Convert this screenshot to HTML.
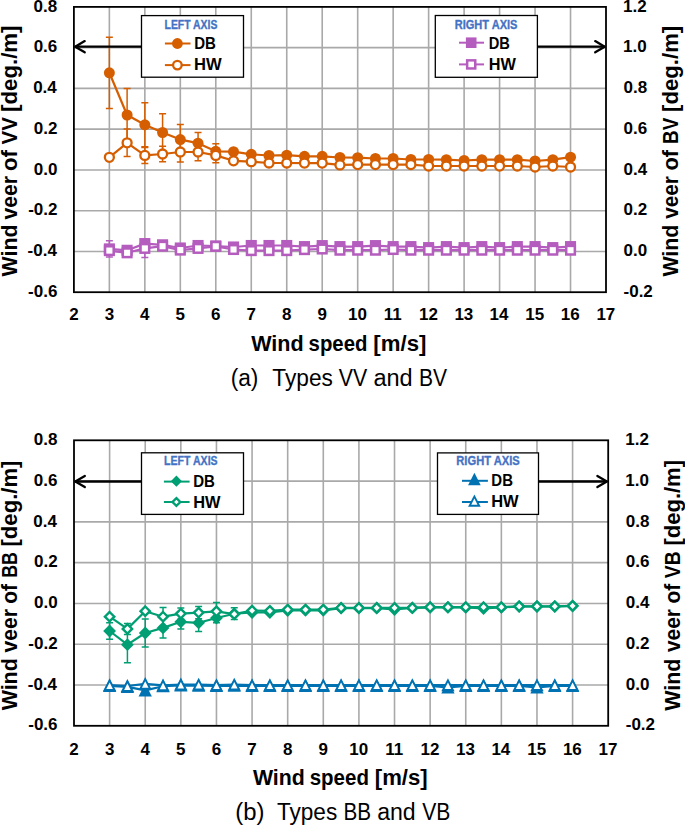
<!DOCTYPE html>
<html><head><meta charset="utf-8"><style>
html,body{margin:0;padding:0;background:#fff;overflow:hidden;width:685px;height:825px;}
svg{display:block;}
</style></head><body>
<svg width="685" height="825" viewBox="0 0 685 825" font-family="'Liberation Sans', sans-serif">
<rect width="685" height="825" fill="#fff"/>
<path d="M109.37,6.90V292.20M144.85,6.90V292.20M180.32,6.90V292.20M215.79,6.90V292.20M251.27,6.90V292.20M286.74,6.90V292.20M322.21,6.90V292.20M357.69,6.90V292.20M393.16,6.90V292.20M428.63,6.90V292.20M464.11,6.90V292.20M499.58,6.90V292.20M535.05,6.90V292.20M570.53,6.90V292.20M73.90,47.66H606.00M73.90,88.41H606.00M73.90,129.17H606.00M73.90,169.93H606.00M73.90,210.69H606.00M73.90,251.44H606.00" stroke="#A9A9A9" stroke-width="1.6" fill="none"/>
<path d="M109.37,37.20V108.40M105.87,37.20h7M105.87,108.40h7M127.11,88.50V141.50M123.61,88.50h7M123.61,141.50h7M144.85,102.80V146.80M141.35,102.80h7M141.35,146.80h7M162.58,113.70V151.30M159.08,113.70h7M159.08,151.30h7M180.32,124.40V154.80M176.82,124.40h7M176.82,154.80h7M198.06,132.40V154.00M194.56,132.40h7M194.56,154.00h7M215.79,143.70V158.90M212.29,143.70h7M212.29,158.90h7" stroke="#D55E00" stroke-width="1.5" fill="none"/>
<path d="M109.37,72.80 L127.11,115.00 L144.85,124.80 L162.58,132.50 L180.32,139.60 L198.06,143.20 L215.79,151.30 L233.53,151.70 L251.27,154.30 L269.00,155.50 L286.74,155.20 L304.48,156.30 L322.21,156.30 L339.95,157.50 L357.69,157.70 L375.42,158.50 L393.16,158.50 L410.90,159.50 L428.63,159.50 L446.37,159.70 L464.11,160.50 L481.84,159.70 L499.58,159.70 L517.32,159.70 L535.05,161.00 L552.79,159.70 L570.53,157.20" stroke="#D55E00" stroke-width="2.2" fill="none" stroke-linejoin="round"/>
<circle cx="109.37" cy="72.80" r="5.5" fill="#D55E00"/>
<circle cx="127.11" cy="115.00" r="5.5" fill="#D55E00"/>
<circle cx="144.85" cy="124.80" r="5.5" fill="#D55E00"/>
<circle cx="162.58" cy="132.50" r="5.5" fill="#D55E00"/>
<circle cx="180.32" cy="139.60" r="5.5" fill="#D55E00"/>
<circle cx="198.06" cy="143.20" r="5.5" fill="#D55E00"/>
<circle cx="215.79" cy="151.30" r="5.5" fill="#D55E00"/>
<circle cx="233.53" cy="151.70" r="5.5" fill="#D55E00"/>
<circle cx="251.27" cy="154.30" r="5.5" fill="#D55E00"/>
<circle cx="269.00" cy="155.50" r="5.5" fill="#D55E00"/>
<circle cx="286.74" cy="155.20" r="5.5" fill="#D55E00"/>
<circle cx="304.48" cy="156.30" r="5.5" fill="#D55E00"/>
<circle cx="322.21" cy="156.30" r="5.5" fill="#D55E00"/>
<circle cx="339.95" cy="157.50" r="5.5" fill="#D55E00"/>
<circle cx="357.69" cy="157.70" r="5.5" fill="#D55E00"/>
<circle cx="375.42" cy="158.50" r="5.5" fill="#D55E00"/>
<circle cx="393.16" cy="158.50" r="5.5" fill="#D55E00"/>
<circle cx="410.90" cy="159.50" r="5.5" fill="#D55E00"/>
<circle cx="428.63" cy="159.50" r="5.5" fill="#D55E00"/>
<circle cx="446.37" cy="159.70" r="5.5" fill="#D55E00"/>
<circle cx="464.11" cy="160.50" r="5.5" fill="#D55E00"/>
<circle cx="481.84" cy="159.70" r="5.5" fill="#D55E00"/>
<circle cx="499.58" cy="159.70" r="5.5" fill="#D55E00"/>
<circle cx="517.32" cy="159.70" r="5.5" fill="#D55E00"/>
<circle cx="535.05" cy="161.00" r="5.5" fill="#D55E00"/>
<circle cx="552.79" cy="159.70" r="5.5" fill="#D55E00"/>
<circle cx="570.53" cy="157.20" r="5.5" fill="#D55E00"/>
<path d="M127.11,129.10V156.50M123.61,129.10h7M123.61,156.50h7M144.85,147.40V163.40M141.35,147.40h7M141.35,163.40h7M162.58,146.20V161.80M159.08,146.20h7M159.08,161.80h7M180.32,142.00V162.00M176.82,142.00h7M176.82,162.00h7M198.06,143.20V160.80M194.56,143.20h7M194.56,160.80h7M215.79,148.00V162.80M212.29,148.00h7M212.29,162.80h7" stroke="#D55E00" stroke-width="1.5" fill="none"/>
<path d="M109.37,157.30 L127.11,142.80 L144.85,155.40 L162.58,154.00 L180.32,152.00 L198.06,152.00 L215.79,155.40 L233.53,160.80 L251.27,161.70 L269.00,163.00 L286.74,163.00 L304.48,163.10 L322.21,163.10 L339.95,164.90 L357.69,164.60 L375.42,164.60 L393.16,164.60 L410.90,164.60 L428.63,166.00 L446.37,166.00 L464.11,166.00 L481.84,166.00 L499.58,166.00 L517.32,166.00 L535.05,167.00 L552.79,166.00 L570.53,167.00" stroke="#D55E00" stroke-width="2.2" fill="none" stroke-linejoin="round"/>
<circle cx="109.37" cy="157.30" r="4.5" fill="#fff" stroke="#D55E00" stroke-width="2.3"/>
<circle cx="127.11" cy="142.80" r="4.5" fill="#fff" stroke="#D55E00" stroke-width="2.3"/>
<circle cx="144.85" cy="155.40" r="4.5" fill="#fff" stroke="#D55E00" stroke-width="2.3"/>
<circle cx="162.58" cy="154.00" r="4.5" fill="#fff" stroke="#D55E00" stroke-width="2.3"/>
<circle cx="180.32" cy="152.00" r="4.5" fill="#fff" stroke="#D55E00" stroke-width="2.3"/>
<circle cx="198.06" cy="152.00" r="4.5" fill="#fff" stroke="#D55E00" stroke-width="2.3"/>
<circle cx="215.79" cy="155.40" r="4.5" fill="#fff" stroke="#D55E00" stroke-width="2.3"/>
<circle cx="233.53" cy="160.80" r="4.5" fill="#fff" stroke="#D55E00" stroke-width="2.3"/>
<circle cx="251.27" cy="161.70" r="4.5" fill="#fff" stroke="#D55E00" stroke-width="2.3"/>
<circle cx="269.00" cy="163.00" r="4.5" fill="#fff" stroke="#D55E00" stroke-width="2.3"/>
<circle cx="286.74" cy="163.00" r="4.5" fill="#fff" stroke="#D55E00" stroke-width="2.3"/>
<circle cx="304.48" cy="163.10" r="4.5" fill="#fff" stroke="#D55E00" stroke-width="2.3"/>
<circle cx="322.21" cy="163.10" r="4.5" fill="#fff" stroke="#D55E00" stroke-width="2.3"/>
<circle cx="339.95" cy="164.90" r="4.5" fill="#fff" stroke="#D55E00" stroke-width="2.3"/>
<circle cx="357.69" cy="164.60" r="4.5" fill="#fff" stroke="#D55E00" stroke-width="2.3"/>
<circle cx="375.42" cy="164.60" r="4.5" fill="#fff" stroke="#D55E00" stroke-width="2.3"/>
<circle cx="393.16" cy="164.60" r="4.5" fill="#fff" stroke="#D55E00" stroke-width="2.3"/>
<circle cx="410.90" cy="164.60" r="4.5" fill="#fff" stroke="#D55E00" stroke-width="2.3"/>
<circle cx="428.63" cy="166.00" r="4.5" fill="#fff" stroke="#D55E00" stroke-width="2.3"/>
<circle cx="446.37" cy="166.00" r="4.5" fill="#fff" stroke="#D55E00" stroke-width="2.3"/>
<circle cx="464.11" cy="166.00" r="4.5" fill="#fff" stroke="#D55E00" stroke-width="2.3"/>
<circle cx="481.84" cy="166.00" r="4.5" fill="#fff" stroke="#D55E00" stroke-width="2.3"/>
<circle cx="499.58" cy="166.00" r="4.5" fill="#fff" stroke="#D55E00" stroke-width="2.3"/>
<circle cx="517.32" cy="166.00" r="4.5" fill="#fff" stroke="#D55E00" stroke-width="2.3"/>
<circle cx="535.05" cy="167.00" r="4.5" fill="#fff" stroke="#D55E00" stroke-width="2.3"/>
<circle cx="552.79" cy="166.00" r="4.5" fill="#fff" stroke="#D55E00" stroke-width="2.3"/>
<circle cx="570.53" cy="167.00" r="4.5" fill="#fff" stroke="#D55E00" stroke-width="2.3"/>
<path d="M109.37,240.80V257.00M105.87,240.80h7M105.87,257.00h7" stroke="#B55DBE" stroke-width="1.5" fill="none"/>
<path d="M109.37,248.90 L127.11,250.30 L144.85,243.60 L162.58,244.80 L180.32,248.00 L198.06,245.50 L215.79,246.00 L233.53,247.00 L251.27,245.50 L269.00,245.50 L286.74,245.50 L304.48,246.60 L322.21,245.60 L339.95,246.60 L357.69,246.60 L375.42,245.60 L393.16,246.60 L410.90,246.60 L428.63,247.60 L446.37,246.60 L464.11,247.60 L481.84,246.60 L499.58,247.60 L517.32,246.60 L535.05,246.60 L552.79,247.60 L570.53,246.60" stroke="#B55DBE" stroke-width="2.2" fill="none" stroke-linejoin="round"/>
<rect x="103.82" y="243.35" width="11.10" height="11.10" fill="#B55DBE"/>
<rect x="121.56" y="244.75" width="11.10" height="11.10" fill="#B55DBE"/>
<rect x="139.30" y="238.05" width="11.10" height="11.10" fill="#B55DBE"/>
<rect x="157.03" y="239.25" width="11.10" height="11.10" fill="#B55DBE"/>
<rect x="174.77" y="242.45" width="11.10" height="11.10" fill="#B55DBE"/>
<rect x="192.51" y="239.95" width="11.10" height="11.10" fill="#B55DBE"/>
<rect x="210.24" y="240.45" width="11.10" height="11.10" fill="#B55DBE"/>
<rect x="227.98" y="241.45" width="11.10" height="11.10" fill="#B55DBE"/>
<rect x="245.72" y="239.95" width="11.10" height="11.10" fill="#B55DBE"/>
<rect x="263.45" y="239.95" width="11.10" height="11.10" fill="#B55DBE"/>
<rect x="281.19" y="239.95" width="11.10" height="11.10" fill="#B55DBE"/>
<rect x="298.93" y="241.05" width="11.10" height="11.10" fill="#B55DBE"/>
<rect x="316.66" y="240.05" width="11.10" height="11.10" fill="#B55DBE"/>
<rect x="334.40" y="241.05" width="11.10" height="11.10" fill="#B55DBE"/>
<rect x="352.14" y="241.05" width="11.10" height="11.10" fill="#B55DBE"/>
<rect x="369.87" y="240.05" width="11.10" height="11.10" fill="#B55DBE"/>
<rect x="387.61" y="241.05" width="11.10" height="11.10" fill="#B55DBE"/>
<rect x="405.35" y="241.05" width="11.10" height="11.10" fill="#B55DBE"/>
<rect x="423.08" y="242.05" width="11.10" height="11.10" fill="#B55DBE"/>
<rect x="440.82" y="241.05" width="11.10" height="11.10" fill="#B55DBE"/>
<rect x="458.56" y="242.05" width="11.10" height="11.10" fill="#B55DBE"/>
<rect x="476.29" y="241.05" width="11.10" height="11.10" fill="#B55DBE"/>
<rect x="494.03" y="242.05" width="11.10" height="11.10" fill="#B55DBE"/>
<rect x="511.77" y="241.05" width="11.10" height="11.10" fill="#B55DBE"/>
<rect x="529.50" y="241.05" width="11.10" height="11.10" fill="#B55DBE"/>
<rect x="547.24" y="242.05" width="11.10" height="11.10" fill="#B55DBE"/>
<rect x="564.98" y="241.05" width="11.10" height="11.10" fill="#B55DBE"/>
<path d="M144.85,239.30V257.50M141.35,239.30h7M141.35,257.50h7" stroke="#B55DBE" stroke-width="1.5" fill="none"/>
<path d="M109.37,250.60 L127.11,252.80 L144.85,248.40 L162.58,246.20 L180.32,250.10 L198.06,248.40 L215.79,246.30 L233.53,249.50 L251.27,250.60 L269.00,250.60 L286.74,250.60 L304.48,249.60 L322.21,249.00 L339.95,250.20 L357.69,250.20 L375.42,250.20 L393.16,249.50 L410.90,250.20 L428.63,250.20 L446.37,250.20 L464.11,250.20 L481.84,250.20 L499.58,250.20 L517.32,250.20 L535.05,250.20 L552.79,250.20 L570.53,250.20" stroke="#B55DBE" stroke-width="2.2" fill="none" stroke-linejoin="round"/>
<rect x="105.07" y="246.30" width="8.60" height="8.60" fill="#fff" stroke="#B55DBE" stroke-width="2.5"/>
<rect x="122.81" y="248.50" width="8.60" height="8.60" fill="#fff" stroke="#B55DBE" stroke-width="2.5"/>
<rect x="140.55" y="244.10" width="8.60" height="8.60" fill="#fff" stroke="#B55DBE" stroke-width="2.5"/>
<rect x="158.28" y="241.90" width="8.60" height="8.60" fill="#fff" stroke="#B55DBE" stroke-width="2.5"/>
<rect x="176.02" y="245.80" width="8.60" height="8.60" fill="#fff" stroke="#B55DBE" stroke-width="2.5"/>
<rect x="193.76" y="244.10" width="8.60" height="8.60" fill="#fff" stroke="#B55DBE" stroke-width="2.5"/>
<rect x="211.49" y="242.00" width="8.60" height="8.60" fill="#fff" stroke="#B55DBE" stroke-width="2.5"/>
<rect x="229.23" y="245.20" width="8.60" height="8.60" fill="#fff" stroke="#B55DBE" stroke-width="2.5"/>
<rect x="246.97" y="246.30" width="8.60" height="8.60" fill="#fff" stroke="#B55DBE" stroke-width="2.5"/>
<rect x="264.70" y="246.30" width="8.60" height="8.60" fill="#fff" stroke="#B55DBE" stroke-width="2.5"/>
<rect x="282.44" y="246.30" width="8.60" height="8.60" fill="#fff" stroke="#B55DBE" stroke-width="2.5"/>
<rect x="300.18" y="245.30" width="8.60" height="8.60" fill="#fff" stroke="#B55DBE" stroke-width="2.5"/>
<rect x="317.91" y="244.70" width="8.60" height="8.60" fill="#fff" stroke="#B55DBE" stroke-width="2.5"/>
<rect x="335.65" y="245.90" width="8.60" height="8.60" fill="#fff" stroke="#B55DBE" stroke-width="2.5"/>
<rect x="353.39" y="245.90" width="8.60" height="8.60" fill="#fff" stroke="#B55DBE" stroke-width="2.5"/>
<rect x="371.12" y="245.90" width="8.60" height="8.60" fill="#fff" stroke="#B55DBE" stroke-width="2.5"/>
<rect x="388.86" y="245.20" width="8.60" height="8.60" fill="#fff" stroke="#B55DBE" stroke-width="2.5"/>
<rect x="406.60" y="245.90" width="8.60" height="8.60" fill="#fff" stroke="#B55DBE" stroke-width="2.5"/>
<rect x="424.33" y="245.90" width="8.60" height="8.60" fill="#fff" stroke="#B55DBE" stroke-width="2.5"/>
<rect x="442.07" y="245.90" width="8.60" height="8.60" fill="#fff" stroke="#B55DBE" stroke-width="2.5"/>
<rect x="459.81" y="245.90" width="8.60" height="8.60" fill="#fff" stroke="#B55DBE" stroke-width="2.5"/>
<rect x="477.54" y="245.90" width="8.60" height="8.60" fill="#fff" stroke="#B55DBE" stroke-width="2.5"/>
<rect x="495.28" y="245.90" width="8.60" height="8.60" fill="#fff" stroke="#B55DBE" stroke-width="2.5"/>
<rect x="513.02" y="245.90" width="8.60" height="8.60" fill="#fff" stroke="#B55DBE" stroke-width="2.5"/>
<rect x="530.75" y="245.90" width="8.60" height="8.60" fill="#fff" stroke="#B55DBE" stroke-width="2.5"/>
<rect x="548.49" y="245.90" width="8.60" height="8.60" fill="#fff" stroke="#B55DBE" stroke-width="2.5"/>
<rect x="566.23" y="245.90" width="8.60" height="8.60" fill="#fff" stroke="#B55DBE" stroke-width="2.5"/>
<rect x="73.90" y="6.90" width="532.10" height="285.30" fill="none" stroke="#000" stroke-width="1.8"/>
<text x="33.59" y="11.55" font-size="16.5" font-weight="bold" fill="#000" textLength="23.63" lengthAdjust="spacingAndGlyphs" >0.8</text>
<text x="33.67" y="52.31" font-size="16.5" font-weight="bold" fill="#000" textLength="23.63" lengthAdjust="spacingAndGlyphs" >0.6</text>
<text x="33.16" y="93.06" font-size="16.5" font-weight="bold" fill="#000" textLength="23.63" lengthAdjust="spacingAndGlyphs" >0.4</text>
<text x="33.76" y="133.82" font-size="16.5" font-weight="bold" fill="#000" textLength="23.63" lengthAdjust="spacingAndGlyphs" >0.2</text>
<text x="33.76" y="174.58" font-size="16.5" font-weight="bold" fill="#000" textLength="23.63" lengthAdjust="spacingAndGlyphs" >0.0</text>
<text x="28.15" y="215.34" font-size="16.5" font-weight="bold" fill="#000" textLength="29.29" lengthAdjust="spacingAndGlyphs" >-0.2</text>
<text x="27.55" y="256.09" font-size="16.5" font-weight="bold" fill="#000" textLength="29.29" lengthAdjust="spacingAndGlyphs" >-0.4</text>
<text x="28.06" y="296.85" font-size="16.5" font-weight="bold" fill="#000" textLength="29.29" lengthAdjust="spacingAndGlyphs" >-0.6</text>
<text x="623.10" y="11.55" font-size="16.5" font-weight="bold" fill="#000" textLength="23.63" lengthAdjust="spacingAndGlyphs" >1.2</text>
<text x="623.10" y="52.31" font-size="16.5" font-weight="bold" fill="#000" textLength="23.63" lengthAdjust="spacingAndGlyphs" >1.0</text>
<text x="623.52" y="93.06" font-size="16.5" font-weight="bold" fill="#000" textLength="23.63" lengthAdjust="spacingAndGlyphs" >0.8</text>
<text x="623.52" y="133.82" font-size="16.5" font-weight="bold" fill="#000" textLength="23.63" lengthAdjust="spacingAndGlyphs" >0.6</text>
<text x="623.52" y="174.58" font-size="16.5" font-weight="bold" fill="#000" textLength="23.63" lengthAdjust="spacingAndGlyphs" >0.4</text>
<text x="623.52" y="215.34" font-size="16.5" font-weight="bold" fill="#000" textLength="23.63" lengthAdjust="spacingAndGlyphs" >0.2</text>
<text x="623.52" y="256.09" font-size="16.5" font-weight="bold" fill="#000" textLength="23.63" lengthAdjust="spacingAndGlyphs" >0.0</text>
<text x="623.52" y="296.85" font-size="16.5" font-weight="bold" fill="#000" textLength="29.29" lengthAdjust="spacingAndGlyphs" >-0.2</text>
<text x="69.23" y="320.00" font-size="16.5" font-weight="bold" fill="#000" textLength="9.45" lengthAdjust="spacingAndGlyphs" >2</text>
<text x="104.74" y="320.00" font-size="16.5" font-weight="bold" fill="#000" textLength="9.45" lengthAdjust="spacingAndGlyphs" >3</text>
<text x="140.05" y="320.00" font-size="16.5" font-weight="bold" fill="#000" textLength="9.45" lengthAdjust="spacingAndGlyphs" >4</text>
<text x="175.56" y="320.00" font-size="16.5" font-weight="bold" fill="#000" textLength="9.45" lengthAdjust="spacingAndGlyphs" >5</text>
<text x="211.08" y="320.00" font-size="16.5" font-weight="bold" fill="#000" textLength="9.45" lengthAdjust="spacingAndGlyphs" >6</text>
<text x="246.55" y="320.00" font-size="16.5" font-weight="bold" fill="#000" textLength="9.45" lengthAdjust="spacingAndGlyphs" >7</text>
<text x="282.02" y="320.00" font-size="16.5" font-weight="bold" fill="#000" textLength="9.45" lengthAdjust="spacingAndGlyphs" >8</text>
<text x="317.50" y="320.00" font-size="16.5" font-weight="bold" fill="#000" textLength="9.45" lengthAdjust="spacingAndGlyphs" >9</text>
<text x="348.04" y="320.00" font-size="16.5" font-weight="bold" fill="#000" textLength="18.90" lengthAdjust="spacingAndGlyphs" >10</text>
<text x="383.86" y="320.00" font-size="16.5" font-weight="bold" fill="#000" textLength="17.97" lengthAdjust="spacingAndGlyphs" >11</text>
<text x="418.99" y="320.00" font-size="16.5" font-weight="bold" fill="#000" textLength="18.90" lengthAdjust="spacingAndGlyphs" >12</text>
<text x="454.42" y="320.00" font-size="16.5" font-weight="bold" fill="#000" textLength="18.90" lengthAdjust="spacingAndGlyphs" >13</text>
<text x="489.64" y="320.00" font-size="16.5" font-weight="bold" fill="#000" textLength="18.90" lengthAdjust="spacingAndGlyphs" >14</text>
<text x="525.28" y="320.00" font-size="16.5" font-weight="bold" fill="#000" textLength="18.90" lengthAdjust="spacingAndGlyphs" >15</text>
<text x="560.84" y="320.00" font-size="16.5" font-weight="bold" fill="#000" textLength="18.90" lengthAdjust="spacingAndGlyphs" >16</text>
<text x="596.40" y="320.00" font-size="16.5" font-weight="bold" fill="#000" textLength="18.90" lengthAdjust="spacingAndGlyphs" >17</text>
<text x="251.20" y="351.30" font-size="22" font-weight="bold" fill="#000" textLength="52.49" lengthAdjust="spacingAndGlyphs" >Wind</text>
<text x="308.59" y="351.30" font-size="22" font-weight="bold" fill="#000" textLength="58.84" lengthAdjust="spacingAndGlyphs" >speed</text>
<text x="373.38" y="351.30" font-size="22" font-weight="bold" fill="#000" textLength="53.04" lengthAdjust="spacingAndGlyphs" >[m/s]</text>
<text transform="translate(17.30,276.40) rotate(-90)" x="0" y="0" font-size="22" font-weight="bold" textLength="51.77" lengthAdjust="spacingAndGlyphs">Wind</text>
<text transform="translate(17.30,219.41) rotate(-90)" x="0" y="0" font-size="22" font-weight="bold" textLength="43.37" lengthAdjust="spacingAndGlyphs">veer</text>
<text transform="translate(17.30,170.88) rotate(-90)" x="0" y="0" font-size="22" font-weight="bold" textLength="20.86" lengthAdjust="spacingAndGlyphs">of</text>
<text transform="translate(17.30,144.51) rotate(-90)" x="0" y="0" font-size="22" font-weight="bold" textLength="27.39" lengthAdjust="spacingAndGlyphs">VV</text>
<text transform="translate(17.30,111.92) rotate(-90)" x="0" y="0" font-size="22" font-weight="bold" textLength="86.43" lengthAdjust="spacingAndGlyphs">[deg./m]</text>
<text transform="translate(677.80,276.60) rotate(-90)" x="0" y="0" font-size="22" font-weight="bold" textLength="51.98" lengthAdjust="spacingAndGlyphs">Wind</text>
<text transform="translate(677.80,218.80) rotate(-90)" x="0" y="0" font-size="22" font-weight="bold" textLength="42.77" lengthAdjust="spacingAndGlyphs">veer</text>
<text transform="translate(677.80,170.57) rotate(-90)" x="0" y="0" font-size="22" font-weight="bold" textLength="20.55" lengthAdjust="spacingAndGlyphs">of</text>
<text transform="translate(677.80,143.92) rotate(-90)" x="0" y="0" font-size="22" font-weight="bold" textLength="26.09" lengthAdjust="spacingAndGlyphs">BV</text>
<text transform="translate(677.80,111.92) rotate(-90)" x="0" y="0" font-size="22" font-weight="bold" textLength="86.12" lengthAdjust="spacingAndGlyphs">[deg./m]</text>
<text x="230.64" y="386.00" font-size="23" font-weight="normal" fill="#000" textLength="27.78" lengthAdjust="spacingAndGlyphs" >(a)</text>
<text x="272.33" y="386.00" font-size="23" font-weight="normal" fill="#000" textLength="60.52" lengthAdjust="spacingAndGlyphs" >Types</text>
<text x="338.79" y="386.00" font-size="23" font-weight="normal" fill="#000" textLength="28.40" lengthAdjust="spacingAndGlyphs" >VV</text>
<text x="373.44" y="386.00" font-size="23" font-weight="normal" fill="#000" textLength="39.27" lengthAdjust="spacingAndGlyphs" >and</text>
<text x="418.92" y="386.00" font-size="23" font-weight="normal" fill="#000" textLength="28.07" lengthAdjust="spacingAndGlyphs" >BV</text>
<path d="M74.90,46.70H141.50" stroke="#000" stroke-width="2.3"/>
<path d="M84.70,41.10L75.20,46.70L84.70,52.30" stroke="#000" stroke-width="2.3" fill="none" stroke-linecap="round" stroke-linejoin="round"/>
<rect x="141.50" y="15.60" width="102.00" height="61.60" fill="#fff" stroke="#000" stroke-width="1.3"/>
<text x="164.52" y="29.00" font-size="13" font-weight="bold" fill="#4472C4" textLength="52.89" lengthAdjust="spacingAndGlyphs" stroke="#4472C4" stroke-width="0.35">LEFT AXIS</text>
<path d="M164.90,43.50H190.50" stroke="#D55E00" stroke-width="2"/>
<circle cx="177.40" cy="43.50" r="5.4" fill="#D55E00"/>
<text x="194.22" y="48.70" font-size="16.5" font-weight="bold" fill="#000" textLength="21.72" lengthAdjust="spacingAndGlyphs" >DB</text>
<path d="M164.90,65.10H190.50" stroke="#D55E00" stroke-width="2"/>
<circle cx="177.40" cy="65.10" r="4.3" fill="#fff" stroke="#D55E00" stroke-width="2.3"/>
<text x="194.12" y="70.00" font-size="16.5" font-weight="bold" fill="#000" textLength="27.68" lengthAdjust="spacingAndGlyphs" >HW</text>
<path d="M537.40,46.70H605.00" stroke="#000" stroke-width="2.3"/>
<path d="M595.20,41.10L604.70,46.70L595.20,52.30" stroke="#000" stroke-width="2.3" fill="none" stroke-linecap="round" stroke-linejoin="round"/>
<rect x="435.30" y="15.50" width="102.10" height="61.80" fill="#fff" stroke="#000" stroke-width="1.3"/>
<text x="454.78" y="29.00" font-size="13" font-weight="bold" fill="#4472C4" textLength="62.71" lengthAdjust="spacingAndGlyphs" stroke="#4472C4" stroke-width="0.35">RIGHT AXIS</text>
<path d="M459.00,42.70H484.00" stroke="#B55DBE" stroke-width="2"/>
<rect x="465.90" y="37.40" width="10.60" height="10.60" fill="#B55DBE"/>
<text x="488.75" y="48.70" font-size="16.5" font-weight="bold" fill="#000" textLength="21.18" lengthAdjust="spacingAndGlyphs" >DB</text>
<path d="M459.00,64.40H484.00" stroke="#B55DBE" stroke-width="2"/>
<rect x="467.15" y="60.35" width="8.10" height="8.10" fill="#fff" stroke="#B55DBE" stroke-width="2.5"/>
<text x="488.64" y="70.00" font-size="16.5" font-weight="bold" fill="#000" textLength="27.16" lengthAdjust="spacingAndGlyphs" >HW</text>
<path d="M109.61,440.30V725.80M145.23,440.30V725.80M180.84,440.30V725.80M216.45,440.30V725.80M252.07,440.30V725.80M287.68,440.30V725.80M323.29,440.30V725.80M358.91,440.30V725.80M394.52,440.30V725.80M430.13,440.30V725.80M465.75,440.30V725.80M501.36,440.30V725.80M536.97,440.30V725.80M572.59,440.30V725.80M74.00,481.09H608.20M74.00,521.87H608.20M74.00,562.66H608.20M74.00,603.44H608.20M74.00,644.23H608.20M74.00,685.01H608.20" stroke="#A9A9A9" stroke-width="1.6" fill="none"/>
<path d="M109.61,622.80V639.20M106.11,622.80h7M106.11,639.20h7M127.42,626.70V662.70M123.92,626.70h7M123.92,662.70h7M145.23,619.00V647.00M141.73,619.00h7M141.73,647.00h7M163.03,617.70V638.10M159.53,617.70h7M159.53,638.10h7M180.84,614.70V628.90M177.34,614.70h7M177.34,628.90h7M198.65,614.00V631.60M195.15,614.00h7M195.15,631.60h7M216.45,613.20V622.80M212.95,613.20h7M212.95,622.80h7M234.26,607.80V619.60M230.76,607.80h7M230.76,619.60h7" stroke="#009E73" stroke-width="1.5" fill="none"/>
<path d="M109.61,631.00 L127.42,644.70 L145.23,633.00 L163.03,627.90 L180.84,621.80 L198.65,622.80 L216.45,618.00 L234.26,613.70 L252.07,612.50 L269.87,612.50 L287.68,610.50 L305.49,610.30 L323.29,610.30 L341.10,608.20 L358.91,608.20 L376.71,608.20 L394.52,609.50 L412.33,607.90 L430.13,607.40 L447.94,607.40 L465.75,607.40 L483.55,608.50 L501.36,607.40 L519.17,606.50 L536.97,606.50 L554.78,606.50 L572.59,606.00" stroke="#009E73" stroke-width="2.2" fill="none" stroke-linejoin="round"/>
<path d="M109.61,624.60L116.01,631.00L109.61,637.40L103.21,631.00Z" fill="#009E73"/>
<path d="M127.42,638.30L133.82,644.70L127.42,651.10L121.02,644.70Z" fill="#009E73"/>
<path d="M145.23,626.60L151.63,633.00L145.23,639.40L138.83,633.00Z" fill="#009E73"/>
<path d="M163.03,621.50L169.43,627.90L163.03,634.30L156.63,627.90Z" fill="#009E73"/>
<path d="M180.84,615.40L187.24,621.80L180.84,628.20L174.44,621.80Z" fill="#009E73"/>
<path d="M198.65,616.40L205.05,622.80L198.65,629.20L192.25,622.80Z" fill="#009E73"/>
<path d="M216.45,611.60L222.85,618.00L216.45,624.40L210.05,618.00Z" fill="#009E73"/>
<path d="M234.26,607.30L240.66,613.70L234.26,620.10L227.86,613.70Z" fill="#009E73"/>
<path d="M252.07,606.10L258.47,612.50L252.07,618.90L245.67,612.50Z" fill="#009E73"/>
<path d="M269.87,606.10L276.27,612.50L269.87,618.90L263.47,612.50Z" fill="#009E73"/>
<path d="M287.68,604.10L294.08,610.50L287.68,616.90L281.28,610.50Z" fill="#009E73"/>
<path d="M305.49,603.90L311.89,610.30L305.49,616.70L299.09,610.30Z" fill="#009E73"/>
<path d="M323.29,603.90L329.69,610.30L323.29,616.70L316.89,610.30Z" fill="#009E73"/>
<path d="M341.10,601.80L347.50,608.20L341.10,614.60L334.70,608.20Z" fill="#009E73"/>
<path d="M358.91,601.80L365.31,608.20L358.91,614.60L352.51,608.20Z" fill="#009E73"/>
<path d="M376.71,601.80L383.11,608.20L376.71,614.60L370.31,608.20Z" fill="#009E73"/>
<path d="M394.52,603.10L400.92,609.50L394.52,615.90L388.12,609.50Z" fill="#009E73"/>
<path d="M412.33,601.50L418.73,607.90L412.33,614.30L405.93,607.90Z" fill="#009E73"/>
<path d="M430.13,601.00L436.53,607.40L430.13,613.80L423.73,607.40Z" fill="#009E73"/>
<path d="M447.94,601.00L454.34,607.40L447.94,613.80L441.54,607.40Z" fill="#009E73"/>
<path d="M465.75,601.00L472.15,607.40L465.75,613.80L459.35,607.40Z" fill="#009E73"/>
<path d="M483.55,602.10L489.95,608.50L483.55,614.90L477.15,608.50Z" fill="#009E73"/>
<path d="M501.36,601.00L507.76,607.40L501.36,613.80L494.96,607.40Z" fill="#009E73"/>
<path d="M519.17,600.10L525.57,606.50L519.17,612.90L512.77,606.50Z" fill="#009E73"/>
<path d="M536.97,600.10L543.37,606.50L536.97,612.90L530.57,606.50Z" fill="#009E73"/>
<path d="M554.78,600.10L561.18,606.50L554.78,612.90L548.38,606.50Z" fill="#009E73"/>
<path d="M572.59,599.60L578.99,606.00L572.59,612.40L566.19,606.00Z" fill="#009E73"/>
<path d="M127.42,623.40V634.40M123.92,623.40h7M123.92,634.40h7M163.03,607.50V625.90M159.53,607.50h7M159.53,625.90h7M180.84,607.90V619.30M177.34,607.90h7M177.34,619.30h7M198.65,606.50V618.70M195.15,606.50h7M195.15,618.70h7M216.45,602.40V620.20M212.95,602.40h7M212.95,620.20h7" stroke="#009E73" stroke-width="1.5" fill="none"/>
<path d="M109.61,616.70 L127.42,628.90 L145.23,611.20 L163.03,616.70 L180.84,613.60 L198.65,612.60 L216.45,611.30 L234.26,614.20 L252.07,610.60 L269.87,610.80 L287.68,609.60 L305.49,609.60 L323.29,609.60 L341.10,607.90 L358.91,607.90 L376.71,607.90 L394.52,607.90 L412.33,607.90 L430.13,607.20 L447.94,607.20 L465.75,607.20 L483.55,607.20 L501.36,607.20 L519.17,606.30 L536.97,606.30 L554.78,606.30 L572.59,605.80" stroke="#009E73" stroke-width="2.2" fill="none" stroke-linejoin="round"/>
<path d="M109.61,612.00L114.31,616.70L109.61,621.40L104.91,616.70Z" fill="#fff" stroke="#009E73" stroke-width="2.4"/>
<path d="M127.42,624.20L132.12,628.90L127.42,633.60L122.72,628.90Z" fill="#fff" stroke="#009E73" stroke-width="2.4"/>
<path d="M145.23,606.50L149.93,611.20L145.23,615.90L140.53,611.20Z" fill="#fff" stroke="#009E73" stroke-width="2.4"/>
<path d="M163.03,612.00L167.73,616.70L163.03,621.40L158.33,616.70Z" fill="#fff" stroke="#009E73" stroke-width="2.4"/>
<path d="M180.84,608.90L185.54,613.60L180.84,618.30L176.14,613.60Z" fill="#fff" stroke="#009E73" stroke-width="2.4"/>
<path d="M198.65,607.90L203.35,612.60L198.65,617.30L193.95,612.60Z" fill="#fff" stroke="#009E73" stroke-width="2.4"/>
<path d="M216.45,606.60L221.15,611.30L216.45,616.00L211.75,611.30Z" fill="#fff" stroke="#009E73" stroke-width="2.4"/>
<path d="M234.26,609.50L238.96,614.20L234.26,618.90L229.56,614.20Z" fill="#fff" stroke="#009E73" stroke-width="2.4"/>
<path d="M252.07,605.90L256.77,610.60L252.07,615.30L247.37,610.60Z" fill="#fff" stroke="#009E73" stroke-width="2.4"/>
<path d="M269.87,606.10L274.57,610.80L269.87,615.50L265.17,610.80Z" fill="#fff" stroke="#009E73" stroke-width="2.4"/>
<path d="M287.68,604.90L292.38,609.60L287.68,614.30L282.98,609.60Z" fill="#fff" stroke="#009E73" stroke-width="2.4"/>
<path d="M305.49,604.90L310.19,609.60L305.49,614.30L300.79,609.60Z" fill="#fff" stroke="#009E73" stroke-width="2.4"/>
<path d="M323.29,604.90L327.99,609.60L323.29,614.30L318.59,609.60Z" fill="#fff" stroke="#009E73" stroke-width="2.4"/>
<path d="M341.10,603.20L345.80,607.90L341.10,612.60L336.40,607.90Z" fill="#fff" stroke="#009E73" stroke-width="2.4"/>
<path d="M358.91,603.20L363.61,607.90L358.91,612.60L354.21,607.90Z" fill="#fff" stroke="#009E73" stroke-width="2.4"/>
<path d="M376.71,603.20L381.41,607.90L376.71,612.60L372.01,607.90Z" fill="#fff" stroke="#009E73" stroke-width="2.4"/>
<path d="M394.52,603.20L399.22,607.90L394.52,612.60L389.82,607.90Z" fill="#fff" stroke="#009E73" stroke-width="2.4"/>
<path d="M412.33,603.20L417.03,607.90L412.33,612.60L407.63,607.90Z" fill="#fff" stroke="#009E73" stroke-width="2.4"/>
<path d="M430.13,602.50L434.83,607.20L430.13,611.90L425.43,607.20Z" fill="#fff" stroke="#009E73" stroke-width="2.4"/>
<path d="M447.94,602.50L452.64,607.20L447.94,611.90L443.24,607.20Z" fill="#fff" stroke="#009E73" stroke-width="2.4"/>
<path d="M465.75,602.50L470.45,607.20L465.75,611.90L461.05,607.20Z" fill="#fff" stroke="#009E73" stroke-width="2.4"/>
<path d="M483.55,602.50L488.25,607.20L483.55,611.90L478.85,607.20Z" fill="#fff" stroke="#009E73" stroke-width="2.4"/>
<path d="M501.36,602.50L506.06,607.20L501.36,611.90L496.66,607.20Z" fill="#fff" stroke="#009E73" stroke-width="2.4"/>
<path d="M519.17,601.60L523.87,606.30L519.17,611.00L514.47,606.30Z" fill="#fff" stroke="#009E73" stroke-width="2.4"/>
<path d="M536.97,601.60L541.67,606.30L536.97,611.00L532.27,606.30Z" fill="#fff" stroke="#009E73" stroke-width="2.4"/>
<path d="M554.78,601.60L559.48,606.30L554.78,611.00L550.08,606.30Z" fill="#fff" stroke="#009E73" stroke-width="2.4"/>
<path d="M572.59,601.10L577.29,605.80L572.59,610.50L567.89,605.80Z" fill="#fff" stroke="#009E73" stroke-width="2.4"/>
<path d="M109.61,686.00 L127.42,686.90 L145.23,690.40 L163.03,686.20 L180.84,685.40 L198.65,685.60 L216.45,686.00 L234.26,685.60 L252.07,686.00 L269.87,686.00 L287.68,686.00 L305.49,686.00 L323.29,686.00 L341.10,686.00 L358.91,686.00 L376.71,686.00 L394.52,686.00 L412.33,686.00 L430.13,686.00 L447.94,687.50 L465.75,686.00 L483.55,686.00 L501.36,686.00 L519.17,686.00 L536.97,687.50 L554.78,686.00 L572.59,686.00" stroke="#0072B2" stroke-width="2.2" fill="none" stroke-linejoin="round"/>
<path d="M109.61,679.10L116.26,692.10L102.96,692.10Z" fill="#0072B2"/>
<path d="M127.42,680.00L134.07,693.00L120.77,693.00Z" fill="#0072B2"/>
<path d="M145.23,683.50L151.88,696.50L138.58,696.50Z" fill="#0072B2"/>
<path d="M163.03,679.30L169.68,692.30L156.38,692.30Z" fill="#0072B2"/>
<path d="M180.84,678.50L187.49,691.50L174.19,691.50Z" fill="#0072B2"/>
<path d="M198.65,678.70L205.30,691.70L192.00,691.70Z" fill="#0072B2"/>
<path d="M216.45,679.10L223.10,692.10L209.80,692.10Z" fill="#0072B2"/>
<path d="M234.26,678.70L240.91,691.70L227.61,691.70Z" fill="#0072B2"/>
<path d="M252.07,679.10L258.72,692.10L245.42,692.10Z" fill="#0072B2"/>
<path d="M269.87,679.10L276.52,692.10L263.22,692.10Z" fill="#0072B2"/>
<path d="M287.68,679.10L294.33,692.10L281.03,692.10Z" fill="#0072B2"/>
<path d="M305.49,679.10L312.14,692.10L298.84,692.10Z" fill="#0072B2"/>
<path d="M323.29,679.10L329.94,692.10L316.64,692.10Z" fill="#0072B2"/>
<path d="M341.10,679.10L347.75,692.10L334.45,692.10Z" fill="#0072B2"/>
<path d="M358.91,679.10L365.56,692.10L352.26,692.10Z" fill="#0072B2"/>
<path d="M376.71,679.10L383.36,692.10L370.06,692.10Z" fill="#0072B2"/>
<path d="M394.52,679.10L401.17,692.10L387.87,692.10Z" fill="#0072B2"/>
<path d="M412.33,679.10L418.98,692.10L405.68,692.10Z" fill="#0072B2"/>
<path d="M430.13,679.10L436.78,692.10L423.48,692.10Z" fill="#0072B2"/>
<path d="M447.94,680.60L454.59,693.60L441.29,693.60Z" fill="#0072B2"/>
<path d="M465.75,679.10L472.40,692.10L459.10,692.10Z" fill="#0072B2"/>
<path d="M483.55,679.10L490.20,692.10L476.90,692.10Z" fill="#0072B2"/>
<path d="M501.36,679.10L508.01,692.10L494.71,692.10Z" fill="#0072B2"/>
<path d="M519.17,679.10L525.82,692.10L512.52,692.10Z" fill="#0072B2"/>
<path d="M536.97,680.60L543.62,693.60L530.32,693.60Z" fill="#0072B2"/>
<path d="M554.78,679.10L561.43,692.10L548.13,692.10Z" fill="#0072B2"/>
<path d="M572.59,679.10L579.24,692.10L565.94,692.10Z" fill="#0072B2"/>
<path d="M109.61,685.10 L127.42,686.00 L145.23,683.80 L163.03,685.30 L180.84,684.50 L198.65,684.70 L216.45,685.10 L234.26,684.70 L252.07,685.10 L269.87,685.10 L287.68,685.10 L305.49,685.10 L323.29,685.10 L341.10,685.10 L358.91,685.10 L376.71,685.10 L394.52,685.10 L412.33,685.10 L430.13,685.10 L447.94,685.10 L465.75,685.10 L483.55,685.10 L501.36,685.10 L519.17,685.10 L536.97,685.10 L554.78,685.10 L572.59,685.10" stroke="#0072B2" stroke-width="2.2" fill="none" stroke-linejoin="round"/>
<path d="M109.61,678.20L116.26,691.20L102.96,691.20Z" fill="#0072B2"/><path d="M109.61,682.50L112.91,689.00L106.31,689.00Z" fill="#fff"/>
<path d="M127.42,679.10L134.07,692.10L120.77,692.10Z" fill="#0072B2"/><path d="M127.42,683.40L130.72,689.90L124.12,689.90Z" fill="#fff"/>
<path d="M145.23,676.90L151.88,689.90L138.58,689.90Z" fill="#0072B2"/><path d="M145.23,681.20L148.53,687.70L141.93,687.70Z" fill="#fff"/>
<path d="M163.03,678.40L169.68,691.40L156.38,691.40Z" fill="#0072B2"/><path d="M163.03,682.70L166.33,689.20L159.73,689.20Z" fill="#fff"/>
<path d="M180.84,677.60L187.49,690.60L174.19,690.60Z" fill="#0072B2"/><path d="M180.84,681.90L184.14,688.40L177.54,688.40Z" fill="#fff"/>
<path d="M198.65,677.80L205.30,690.80L192.00,690.80Z" fill="#0072B2"/><path d="M198.65,682.10L201.95,688.60L195.35,688.60Z" fill="#fff"/>
<path d="M216.45,678.20L223.10,691.20L209.80,691.20Z" fill="#0072B2"/><path d="M216.45,682.50L219.75,689.00L213.15,689.00Z" fill="#fff"/>
<path d="M234.26,677.80L240.91,690.80L227.61,690.80Z" fill="#0072B2"/><path d="M234.26,682.10L237.56,688.60L230.96,688.60Z" fill="#fff"/>
<path d="M252.07,678.20L258.72,691.20L245.42,691.20Z" fill="#0072B2"/><path d="M252.07,682.50L255.37,689.00L248.77,689.00Z" fill="#fff"/>
<path d="M269.87,678.20L276.52,691.20L263.22,691.20Z" fill="#0072B2"/><path d="M269.87,682.50L273.17,689.00L266.57,689.00Z" fill="#fff"/>
<path d="M287.68,678.20L294.33,691.20L281.03,691.20Z" fill="#0072B2"/><path d="M287.68,682.50L290.98,689.00L284.38,689.00Z" fill="#fff"/>
<path d="M305.49,678.20L312.14,691.20L298.84,691.20Z" fill="#0072B2"/><path d="M305.49,682.50L308.79,689.00L302.19,689.00Z" fill="#fff"/>
<path d="M323.29,678.20L329.94,691.20L316.64,691.20Z" fill="#0072B2"/><path d="M323.29,682.50L326.59,689.00L319.99,689.00Z" fill="#fff"/>
<path d="M341.10,678.20L347.75,691.20L334.45,691.20Z" fill="#0072B2"/><path d="M341.10,682.50L344.40,689.00L337.80,689.00Z" fill="#fff"/>
<path d="M358.91,678.20L365.56,691.20L352.26,691.20Z" fill="#0072B2"/><path d="M358.91,682.50L362.21,689.00L355.61,689.00Z" fill="#fff"/>
<path d="M376.71,678.20L383.36,691.20L370.06,691.20Z" fill="#0072B2"/><path d="M376.71,682.50L380.01,689.00L373.41,689.00Z" fill="#fff"/>
<path d="M394.52,678.20L401.17,691.20L387.87,691.20Z" fill="#0072B2"/><path d="M394.52,682.50L397.82,689.00L391.22,689.00Z" fill="#fff"/>
<path d="M412.33,678.20L418.98,691.20L405.68,691.20Z" fill="#0072B2"/><path d="M412.33,682.50L415.63,689.00L409.03,689.00Z" fill="#fff"/>
<path d="M430.13,678.20L436.78,691.20L423.48,691.20Z" fill="#0072B2"/><path d="M430.13,682.50L433.43,689.00L426.83,689.00Z" fill="#fff"/>
<path d="M447.94,678.20L454.59,691.20L441.29,691.20Z" fill="#0072B2"/><path d="M447.94,682.50L451.24,689.00L444.64,689.00Z" fill="#fff"/>
<path d="M465.75,678.20L472.40,691.20L459.10,691.20Z" fill="#0072B2"/><path d="M465.75,682.50L469.05,689.00L462.45,689.00Z" fill="#fff"/>
<path d="M483.55,678.20L490.20,691.20L476.90,691.20Z" fill="#0072B2"/><path d="M483.55,682.50L486.85,689.00L480.25,689.00Z" fill="#fff"/>
<path d="M501.36,678.20L508.01,691.20L494.71,691.20Z" fill="#0072B2"/><path d="M501.36,682.50L504.66,689.00L498.06,689.00Z" fill="#fff"/>
<path d="M519.17,678.20L525.82,691.20L512.52,691.20Z" fill="#0072B2"/><path d="M519.17,682.50L522.47,689.00L515.87,689.00Z" fill="#fff"/>
<path d="M536.97,678.20L543.62,691.20L530.32,691.20Z" fill="#0072B2"/><path d="M536.97,682.50L540.27,689.00L533.67,689.00Z" fill="#fff"/>
<path d="M554.78,678.20L561.43,691.20L548.13,691.20Z" fill="#0072B2"/><path d="M554.78,682.50L558.08,689.00L551.48,689.00Z" fill="#fff"/>
<path d="M572.59,678.20L579.24,691.20L565.94,691.20Z" fill="#0072B2"/><path d="M572.59,682.50L575.89,689.00L569.29,689.00Z" fill="#fff"/>
<rect x="74.00" y="440.30" width="534.20" height="285.50" fill="none" stroke="#000" stroke-width="1.8"/>
<text x="33.79" y="444.95" font-size="16.5" font-weight="bold" fill="#000" textLength="23.63" lengthAdjust="spacingAndGlyphs" >0.8</text>
<text x="33.87" y="485.74" font-size="16.5" font-weight="bold" fill="#000" textLength="23.63" lengthAdjust="spacingAndGlyphs" >0.6</text>
<text x="33.36" y="526.52" font-size="16.5" font-weight="bold" fill="#000" textLength="23.63" lengthAdjust="spacingAndGlyphs" >0.4</text>
<text x="33.96" y="567.31" font-size="16.5" font-weight="bold" fill="#000" textLength="23.63" lengthAdjust="spacingAndGlyphs" >0.2</text>
<text x="33.96" y="608.09" font-size="16.5" font-weight="bold" fill="#000" textLength="23.63" lengthAdjust="spacingAndGlyphs" >0.0</text>
<text x="28.35" y="648.88" font-size="16.5" font-weight="bold" fill="#000" textLength="29.29" lengthAdjust="spacingAndGlyphs" >-0.2</text>
<text x="27.75" y="689.66" font-size="16.5" font-weight="bold" fill="#000" textLength="29.29" lengthAdjust="spacingAndGlyphs" >-0.4</text>
<text x="28.26" y="730.45" font-size="16.5" font-weight="bold" fill="#000" textLength="29.29" lengthAdjust="spacingAndGlyphs" >-0.6</text>
<text x="625.30" y="444.95" font-size="16.5" font-weight="bold" fill="#000" textLength="23.63" lengthAdjust="spacingAndGlyphs" >1.2</text>
<text x="625.30" y="485.74" font-size="16.5" font-weight="bold" fill="#000" textLength="23.63" lengthAdjust="spacingAndGlyphs" >1.0</text>
<text x="625.72" y="526.52" font-size="16.5" font-weight="bold" fill="#000" textLength="23.63" lengthAdjust="spacingAndGlyphs" >0.8</text>
<text x="625.72" y="567.31" font-size="16.5" font-weight="bold" fill="#000" textLength="23.63" lengthAdjust="spacingAndGlyphs" >0.6</text>
<text x="625.72" y="608.09" font-size="16.5" font-weight="bold" fill="#000" textLength="23.63" lengthAdjust="spacingAndGlyphs" >0.4</text>
<text x="625.72" y="648.88" font-size="16.5" font-weight="bold" fill="#000" textLength="23.63" lengthAdjust="spacingAndGlyphs" >0.2</text>
<text x="625.72" y="689.66" font-size="16.5" font-weight="bold" fill="#000" textLength="23.63" lengthAdjust="spacingAndGlyphs" >0.0</text>
<text x="625.72" y="730.45" font-size="16.5" font-weight="bold" fill="#000" textLength="29.29" lengthAdjust="spacingAndGlyphs" >-0.2</text>
<text x="69.33" y="755.00" font-size="16.5" font-weight="bold" fill="#000" textLength="9.45" lengthAdjust="spacingAndGlyphs" >2</text>
<text x="104.98" y="755.00" font-size="16.5" font-weight="bold" fill="#000" textLength="9.45" lengthAdjust="spacingAndGlyphs" >3</text>
<text x="140.43" y="755.00" font-size="16.5" font-weight="bold" fill="#000" textLength="9.45" lengthAdjust="spacingAndGlyphs" >4</text>
<text x="176.08" y="755.00" font-size="16.5" font-weight="bold" fill="#000" textLength="9.45" lengthAdjust="spacingAndGlyphs" >5</text>
<text x="211.74" y="755.00" font-size="16.5" font-weight="bold" fill="#000" textLength="9.45" lengthAdjust="spacingAndGlyphs" >6</text>
<text x="247.35" y="755.00" font-size="16.5" font-weight="bold" fill="#000" textLength="9.45" lengthAdjust="spacingAndGlyphs" >7</text>
<text x="282.96" y="755.00" font-size="16.5" font-weight="bold" fill="#000" textLength="9.45" lengthAdjust="spacingAndGlyphs" >8</text>
<text x="318.58" y="755.00" font-size="16.5" font-weight="bold" fill="#000" textLength="9.45" lengthAdjust="spacingAndGlyphs" >9</text>
<text x="349.26" y="755.00" font-size="16.5" font-weight="bold" fill="#000" textLength="18.90" lengthAdjust="spacingAndGlyphs" >10</text>
<text x="385.22" y="755.00" font-size="16.5" font-weight="bold" fill="#000" textLength="17.97" lengthAdjust="spacingAndGlyphs" >11</text>
<text x="420.49" y="755.00" font-size="16.5" font-weight="bold" fill="#000" textLength="18.90" lengthAdjust="spacingAndGlyphs" >12</text>
<text x="456.06" y="755.00" font-size="16.5" font-weight="bold" fill="#000" textLength="18.90" lengthAdjust="spacingAndGlyphs" >13</text>
<text x="491.42" y="755.00" font-size="16.5" font-weight="bold" fill="#000" textLength="18.90" lengthAdjust="spacingAndGlyphs" >14</text>
<text x="527.20" y="755.00" font-size="16.5" font-weight="bold" fill="#000" textLength="18.90" lengthAdjust="spacingAndGlyphs" >15</text>
<text x="562.90" y="755.00" font-size="16.5" font-weight="bold" fill="#000" textLength="18.90" lengthAdjust="spacingAndGlyphs" >16</text>
<text x="598.60" y="755.00" font-size="16.5" font-weight="bold" fill="#000" textLength="18.90" lengthAdjust="spacingAndGlyphs" >17</text>
<text x="252.90" y="784.90" font-size="22" font-weight="bold" fill="#000" textLength="51.88" lengthAdjust="spacingAndGlyphs" >Wind</text>
<text x="309.68" y="784.90" font-size="22" font-weight="bold" fill="#000" textLength="59.25" lengthAdjust="spacingAndGlyphs" >speed</text>
<text x="374.78" y="784.90" font-size="22" font-weight="bold" fill="#000" textLength="52.93" lengthAdjust="spacingAndGlyphs" >[m/s]</text>
<text transform="translate(17.30,710.30) rotate(-90)" x="0" y="0" font-size="22" font-weight="bold" textLength="51.98" lengthAdjust="spacingAndGlyphs">Wind</text>
<text transform="translate(17.30,652.41) rotate(-90)" x="0" y="0" font-size="22" font-weight="bold" textLength="43.37" lengthAdjust="spacingAndGlyphs">veer</text>
<text transform="translate(17.30,603.84) rotate(-90)" x="0" y="0" font-size="22" font-weight="bold" textLength="19.82" lengthAdjust="spacingAndGlyphs">of</text>
<text transform="translate(17.30,577.86) rotate(-90)" x="0" y="0" font-size="22" font-weight="bold" textLength="25.74" lengthAdjust="spacingAndGlyphs">BB</text>
<text transform="translate(17.30,546.52) rotate(-90)" x="0" y="0" font-size="22" font-weight="bold" textLength="86.02" lengthAdjust="spacingAndGlyphs">[deg./m]</text>
<text transform="translate(679.70,710.80) rotate(-90)" x="0" y="0" font-size="22" font-weight="bold" textLength="52.18" lengthAdjust="spacingAndGlyphs">Wind</text>
<text transform="translate(679.70,652.10) rotate(-90)" x="0" y="0" font-size="22" font-weight="bold" textLength="43.07" lengthAdjust="spacingAndGlyphs">veer</text>
<text transform="translate(679.70,603.54) rotate(-90)" x="0" y="0" font-size="22" font-weight="bold" textLength="19.82" lengthAdjust="spacingAndGlyphs">of</text>
<text transform="translate(679.70,578.19) rotate(-90)" x="0" y="0" font-size="22" font-weight="bold" textLength="26.84" lengthAdjust="spacingAndGlyphs">VB</text>
<text transform="translate(679.70,545.51) rotate(-90)" x="0" y="0" font-size="22" font-weight="bold" textLength="85.50" lengthAdjust="spacingAndGlyphs">[deg./m]</text>
<text x="235.37" y="819.70" font-size="23" font-weight="normal" fill="#000" textLength="29.22" lengthAdjust="spacingAndGlyphs" >(b)</text>
<text x="276.93" y="819.70" font-size="23" font-weight="normal" fill="#000" textLength="60.31" lengthAdjust="spacingAndGlyphs" >Types</text>
<text x="343.45" y="819.70" font-size="23" font-weight="normal" fill="#000" textLength="27.57" lengthAdjust="spacingAndGlyphs" >BB</text>
<text x="377.16" y="819.70" font-size="23" font-weight="normal" fill="#000" textLength="38.52" lengthAdjust="spacingAndGlyphs" >and</text>
<text x="422.19" y="819.70" font-size="23" font-weight="normal" fill="#000" textLength="28.15" lengthAdjust="spacingAndGlyphs" >VB</text>
<path d="M75.00,481.50H141.50" stroke="#000" stroke-width="2.3"/>
<path d="M84.80,475.90L75.30,481.50L84.80,487.10" stroke="#000" stroke-width="2.3" fill="none" stroke-linecap="round" stroke-linejoin="round"/>
<rect x="141.50" y="452.80" width="102.00" height="61.60" fill="#fff" stroke="#000" stroke-width="1.3"/>
<text x="164.11" y="465.30" font-size="13" font-weight="bold" fill="#4472C4" textLength="53.50" lengthAdjust="spacingAndGlyphs" stroke="#4472C4" stroke-width="0.35">LEFT AXIS</text>
<path d="M163.90,481.60H189.60" stroke="#009E73" stroke-width="2"/>
<path d="M176.40,475.60L182.00,481.20L176.40,486.80L170.80,481.20Z" fill="#009E73"/>
<text x="193.22" y="487.30" font-size="16.5" font-weight="bold" fill="#000" textLength="21.72" lengthAdjust="spacingAndGlyphs" >DB</text>
<path d="M163.90,502.00H189.60" stroke="#009E73" stroke-width="2"/>
<path d="M176.40,498.10L180.30,502.00L176.40,505.90L172.50,502.00Z" fill="#fff" stroke="#009E73" stroke-width="2.4"/>
<text x="193.14" y="508.20" font-size="16.5" font-weight="bold" fill="#000" textLength="27.26" lengthAdjust="spacingAndGlyphs" >HW</text>
<path d="M538.50,481.50H607.20" stroke="#000" stroke-width="2.3"/>
<path d="M597.40,475.90L606.90,481.50L597.40,487.10" stroke="#000" stroke-width="2.3" fill="none" stroke-linecap="round" stroke-linejoin="round"/>
<rect x="437.50" y="452.90" width="101.00" height="61.50" fill="#fff" stroke="#000" stroke-width="1.3"/>
<text x="456.27" y="465.30" font-size="13" font-weight="bold" fill="#4472C4" textLength="63.52" lengthAdjust="spacingAndGlyphs" stroke="#4472C4" stroke-width="0.35">RIGHT AXIS</text>
<path d="M462.00,480.80H487.90" stroke="#0072B2" stroke-width="2"/>
<path d="M474.40,472.84L480.72,485.19L468.08,485.19Z" fill="#0072B2"/>
<text x="491.33" y="485.70" font-size="16.5" font-weight="bold" fill="#000" textLength="21.61" lengthAdjust="spacingAndGlyphs" >DB</text>
<path d="M462.00,502.00H487.90" stroke="#0072B2" stroke-width="2"/>
<path d="M474.40,494.44L480.72,506.80L468.08,506.80Z" fill="#0072B2"/><path d="M474.40,498.53L477.53,504.70L471.26,504.70Z" fill="#fff"/>
<text x="491.23" y="506.70" font-size="16.5" font-weight="bold" fill="#000" textLength="27.47" lengthAdjust="spacingAndGlyphs" >HW</text>
</svg></body></html>
